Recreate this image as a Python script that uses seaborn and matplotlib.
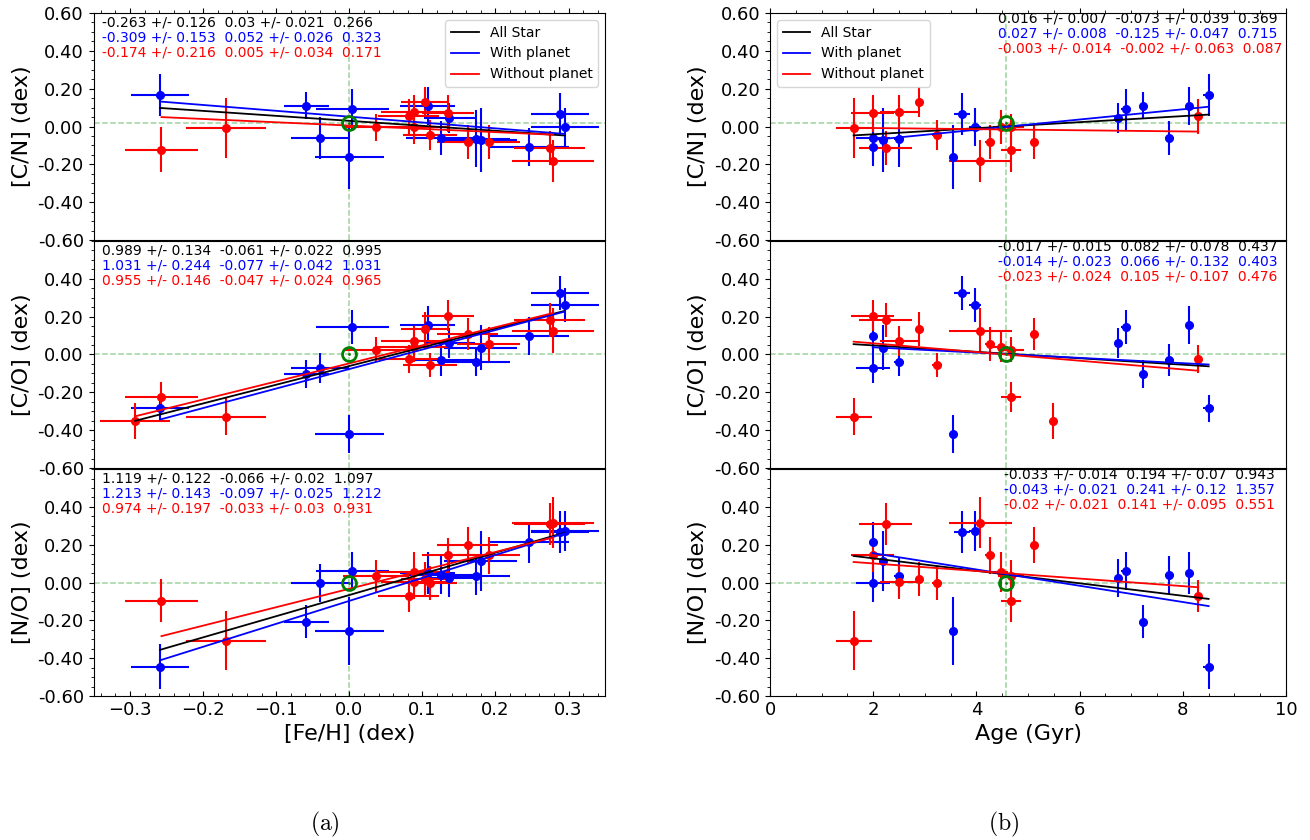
import numpy as np
import pandas as pd
import matplotlib
matplotlib.use('Agg')
import matplotlib.pyplot as plt
import seaborn as sns
from matplotlib.ticker import AutoMinorLocator, FormatStrFormatter

nan = np.nan

# stars with planet
feh_wp = [-0.259, -0.059, -0.040, 0.004, 0.000, 0.107, 0.125, 0.137, 0.173, 0.180, 0.246, 0.288, 0.295]
feh_wp_err = [0.040, 0.031, 0.040, 0.050, 0.047, 0.038, 0.047, 0.035, 0.047, 0.050, 0.055, 0.040, 0.047]
age_wp = [8.50, 7.23, 1.99, 6.90, 3.55, 8.12, 7.74, 6.75, 2.50, 2.18, 1.99, 3.72, 3.97]
age_wp_err = [0.10, 0.05, 0.33, 0.10, 0.05, 0.05, 0.08, 0.05, 0.10, 0.05, 0.05, 0.15, 0.12]
cn_wp = [0.168, 0.110, -0.060, 0.090, -0.163, 0.108, -0.060, 0.046, -0.065, -0.070, -0.108, 0.065, -0.004]
cn_wp_err = [0.11, 0.07, 0.11, 0.11, 0.17, 0.10, 0.09, 0.08, 0.15, 0.17, 0.10, 0.11, 0.10]
co_wp = [-0.285, -0.103, -0.070, 0.145, -0.420, 0.155, -0.030, 0.062, -0.042, 0.036, 0.098, 0.326, 0.262]
co_wp_err = [0.07, 0.075, 0.08, 0.09, 0.10, 0.10, 0.085, 0.08, 0.07, 0.12, 0.10, 0.09, 0.09]
no_wp = [-0.444, -0.206, -0.004, 0.062, -0.254, 0.052, 0.040, 0.022, 0.035, 0.114, 0.212, 0.267, 0.272]
no_wp_err = [0.117, 0.086, 0.10, 0.10, 0.18, 0.11, 0.10, 0.10, 0.10, 0.16, 0.11, 0.11, 0.105]

# stars without planet
feh_np = [-0.293, -0.257, -0.169, 0.036, 0.081, 0.088, 0.088, 0.103, 0.110, 0.135, 0.162, 0.191, 0.274, 0.279]
feh_np_err = [0.048, 0.050, 0.055, 0.045, 0.042, 0.045, 0.050, 0.032, 0.037, 0.036, 0.042, 0.043, 0.048, 0.056]
age_np = [5.48, 4.67, 1.62, 4.67, 8.30, 2.50, 4.47, 2.88, 3.23, 1.99, 5.12, 4.26, 2.24, 4.07]
age_np_err = [0.0, 0.20, 0.35, 0.25, 0.0, 0.36, 0.15, 0.0, 0.10, 0.42, 0.0, 0.10, 0.52, 0.61]
cn_np = [nan, -0.122, -0.009, -0.004, 0.053, 0.078, -0.004, 0.128, -0.046, 0.069, -0.082, -0.081, -0.114, -0.181]
cn_np_err = [nan, 0.12, 0.16, 0.07, 0.09, 0.09, 0.09, 0.08, 0.08, 0.10, 0.09, 0.09, 0.09, 0.11]
co_np = [-0.354, -0.223, -0.328, 0.025, -0.025, 0.071, 0.042, 0.136, -0.055, 0.206, 0.108, 0.053, 0.184, 0.126]
co_np_err = [0.095, 0.08, 0.10, 0.065, 0.075, 0.08, 0.08, 0.09, 0.065, 0.08, 0.085, 0.09, 0.09, 0.12]
no_np = [nan, -0.095, -0.307, 0.035, -0.070, 0.002, 0.056, 0.017, 0.000, 0.148, 0.198, 0.143, 0.308, 0.316]
no_np_err = [nan, 0.113, 0.155, 0.085, 0.085, 0.09, 0.105, 0.09, 0.09, 0.09, 0.095, 0.10, 0.11, 0.135]

# sun
sun_feh = 0.0
sun_age = 4.57
sun_cn, sun_co, sun_no = 0.018, 0.005, -0.005

# linear fits: slope, slope err, intercept, intercept err, last column  (all / with planet / without planet)
fit_cn_feh = [(-0.263, 0.126, 0.03, 0.021, 0.266), (-0.309, 0.153, 0.052, 0.026, 0.323), (-0.174, 0.216, 0.005, 0.034, 0.171)]
fit_co_feh = [(0.989, 0.134, -0.061, 0.022, 0.995), (1.031, 0.244, -0.077, 0.042, 1.031), (0.955, 0.146, -0.047, 0.024, 0.965)]
fit_no_feh = [(1.119, 0.122, -0.066, 0.02, 1.097), (1.213, 0.143, -0.097, 0.025, 1.212), (0.974, 0.197, -0.033, 0.03, 0.931)]
fit_cn_age = [(0.016, 0.007, -0.073, 0.039, 0.369), (0.027, 0.008, -0.125, 0.047, 0.715), (-0.003, 0.014, -0.002, 0.063, 0.087)]
fit_co_age = [(-0.017, 0.015, 0.082, 0.078, 0.437), (-0.014, 0.023, 0.066, 0.132, 0.403), (-0.023, 0.024, 0.105, 0.107, 0.476)]
fit_no_age = [(-0.033, 0.014, 0.194, 0.07, 0.943), (-0.043, 0.021, 0.241, 0.12, 1.357), (-0.02, 0.021, 0.141, 0.095, 0.551)]

plt.rcParams['font.family'] = ['DejaVu Sans']
plt.rcParams['mathtext.fontset'] = 'cm'

fig = plt.figure(figsize=(13.1, 8.4), dpi=100)

left_x, right_x = 0.0714, 0.5878
left_w, right_w = 0.3905, 0.3939
bottoms = [0.7143, 0.4429, 0.1714]
h = 0.2702

colors = ['black', 'blue', 'red']
labels = ['All Star', 'With planet', 'Without planet']


def draw_panel(ax, xw, xwe, yw, ywe, xn, xne, yn, yne, fits, sx, sy, tx, ty):
    xw, xwe, yw, ywe = map(np.asarray, (xw, xwe, yw, ywe))
    xn, xne, yn, yne = map(np.asarray, (xn, xne, yn, yne))
    ax.axhline(sy, color='#9fd39f', ls='--', lw=1.1, zorder=1)
    ax.axvline(sx, color='#9fd39f', ls='--', lw=1.1, zorder=1)
    mw = ~np.isnan(yw)
    mn = ~np.isnan(yn)
    ax.errorbar(xw[mw], yw[mw], xerr=xwe[mw], yerr=ywe[mw], fmt='o', color='blue',
                ms=5.5, elinewidth=1.5, capsize=0, zorder=2)
    ax.errorbar(xn[mn], yn[mn], xerr=xne[mn], yerr=yne[mn], fmt='o', color='red',
                ms=5.5, elinewidth=1.5, capsize=0, zorder=2)
    xs = [np.concatenate([xw[mw], xn[mn]]), xw[mw], xn[mn]]
    for (a, ae, b, be, c), xx, col, lab in zip(fits, xs, colors, labels):
        lx = np.array([xx.min(), xx.max()])
        df = pd.DataFrame({'x': lx, 'y': a * lx + b})
        sns.lineplot(data=df, x='x', y='y', color=col, lw=1.3, ax=ax, label=lab, zorder=3)
    for i, ((a, ae, b, be, c), col) in enumerate(zip(fits, colors)):
        ax.text(tx, ty - i * 0.066, f'{a} +/- {ae}  {b} +/- {be}  {c}', color=col,
                fontsize=10, transform=ax.transAxes, ha='left', va='center')
    ax.plot(sx, sy, 'o', mfc='none', mec='green', ms=10, mew=2, zorder=4)
    ax.plot(sx, sy, '.', color='green', ms=2, zorder=4)


ynames = ['[C/N] (dex)', '[C/O] (dex)', '[N/O] (dex)']
left_data = [(cn_wp, cn_wp_err, cn_np, cn_np_err, fit_cn_feh, sun_cn),
             (co_wp, co_wp_err, co_np, co_np_err, fit_co_feh, sun_co),
             (no_wp, no_wp_err, no_np, no_np_err, fit_no_feh, sun_no)]
right_data = [(cn_wp, cn_wp_err, cn_np, cn_np_err, fit_cn_age, sun_cn),
              (co_wp, co_wp_err, co_np, co_np_err, fit_co_age, sun_co),
              (no_wp, no_wp_err, no_np, no_np_err, fit_no_age, sun_no)]
right_tx = [0.441, 0.441, 0.453]

for row in range(3):
    for col in range(2):
        if col == 0:
            ax = fig.add_axes([left_x, bottoms[row], left_w, h])
            yw, ywe, yn, yne, fits, sy = left_data[row]
            draw_panel(ax, feh_wp, feh_wp_err, yw, ywe, feh_np, feh_np_err, yn, yne,
                       fits, sun_feh, sy, 0.016, 0.957)
            ax.set_xlim(-0.35, 0.35)
            ax.set_xticks(np.round(np.arange(-0.3, 0.31, 0.1), 1))
            ax.xaxis.set_minor_locator(AutoMinorLocator(5))
            ax.set_xlabel('[Fe/H] (dex)', fontsize=16)
            leg_loc = 'upper right'
        else:
            ax = fig.add_axes([right_x, bottoms[row], right_w, h])
            yw, ywe, yn, yne, fits, sy = right_data[row]
            draw_panel(ax, age_wp, age_wp_err, yw, ywe, age_np, age_np_err, yn, yne,
                       fits, sun_age, sy, right_tx[row], 0.974)
            ax.set_xlim(0, 10)
            ax.set_xticks(np.arange(0, 11, 2))
            ax.xaxis.set_minor_locator(AutoMinorLocator(4))
            ax.set_xlabel('Age (Gyr)', fontsize=16)
            leg_loc = 'upper left'

        ax.set_ylim(-0.6, 0.6)
        if row == 0:
            ax.set_yticks(np.round(np.arange(-0.6, 0.61, 0.2), 1))
        else:
            ax.set_yticks(np.round(np.arange(-0.6, 0.41, 0.2), 1))
        ax.yaxis.set_major_formatter(FormatStrFormatter('%.2f'))
        ax.yaxis.set_minor_locator(AutoMinorLocator(4))
        ax.set_ylabel(ynames[row], fontsize=16)
        ax.tick_params(axis='y', which='both', labelsize=13)
        ax.tick_params(axis='x', which='both', labelsize=13)

        if row == 0:
            ax.legend(loc=leg_loc, fontsize=10)
            ax.tick_params(axis='x', which='both', top=True, bottom=False, labelbottom=False)
            ax.set_xlabel('')
        else:
            if ax.get_legend() is not None:
                ax.get_legend().remove()
        if row == 1:
            ax.tick_params(axis='x', which='both', top=False, bottom=False, labelbottom=False)
            ax.set_xlabel('')
        if row == 2:
            ax.tick_params(axis='x', which='both', direction='in')

fig.text(0.248, 0.018, r'$\mathrm{(a)}$', fontsize=17, ha='center', va='center')
fig.text(0.766, 0.018, r'$\mathrm{(b)}$', fontsize=17, ha='center', va='center')

fig.savefig('out.png', dpi=100)
